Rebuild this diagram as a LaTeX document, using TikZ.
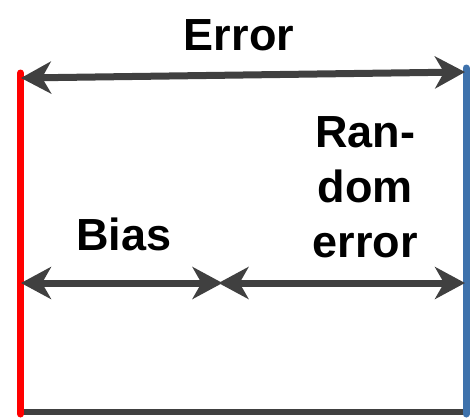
\documentclass[tikz,border=0pt]{standalone}
\usepackage{fontspec}
\setmainfont{Liberation Sans}
\usetikzlibrary{arrows.meta}
\definecolor{arrowgray}{RGB}{64,64,64}
\definecolor{biasred}{RGB}{255,0,0}
\definecolor{truthblue}{RGB}{62,114,172}
\tikzset{
  measure/.style={draw=arrowgray, line width=7pt,
    {Stealth[length=30pt,width=32pt,inset=9pt]}-{Stealth[length=30pt,width=32pt,inset=9pt]}},
  marker/.style={line width=7pt, line cap=round},
  lbl/.style={font=\fontsize{45}{55}\selectfont\bfseries, text=black, inner sep=0pt}
}
\begin{document}
\begin{tikzpicture}[x=1pt,y=-1pt]
  \useasboundingbox (0,0) rectangle (476,418);
  % reference markers
  \coordinate (redtop) at (20.5,73);
  \coordinate (redbot) at (20.5,414);
  \coordinate (bluetop) at (466,68);
  \coordinate (bluebot) at (466,414);
  % arrow end points
  \coordinate (errL) at (21,78);
  \coordinate (errR) at (465,72);
  \coordinate (midL) at (21,283);
  \coordinate (midM) at (220.5,283);
  \coordinate (midR) at (465,283);
  \coordinate (baseL) at (20.5,412);
  \coordinate (baseR) at (466,412);
  % baseline
  \draw[arrowgray, line width=6pt] (baseL) -- (baseR);
  % vertical markers
  \draw[marker, biasred] (redtop) -- (redbot);
  \draw[marker, truthblue] (bluetop) -- (bluebot);
  % measurements
  \draw[measure] (errL) -- (errR);
  \draw[measure, shorten >=-2pt] (midL) -- (midM);
  \draw[measure, shorten <=-2pt] (midM) -- (midR);
  % labels
  \node[lbl, anchor=base] (error) at (239,50) {Error};
  \node[lbl, anchor=base] (bias) at (124,250) {Bias};
  \node[lbl, anchor=base, align=center] (random) at (365,257) {Ran-\\dom\\error};
\end{tikzpicture}
\end{document}
